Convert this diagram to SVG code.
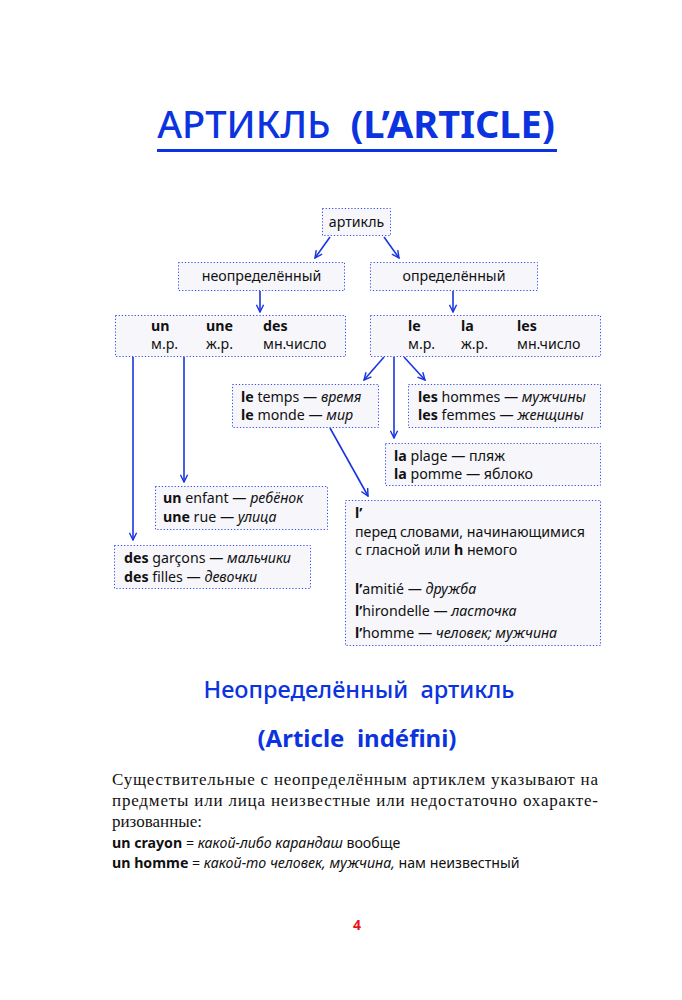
<svg xmlns="http://www.w3.org/2000/svg" width="682" height="1000" viewBox="0 0 682 1000">
<defs>
<marker id="ah" viewBox="0 0 10 10" refX="9" refY="5" markerWidth="9" markerHeight="9" markerUnits="userSpaceOnUse" orient="auto">
<path d="M1,1 L9,5 L1,9" fill="none" stroke="#1a35e0" stroke-width="1.6"/>
</marker>
<style>
.box{fill:#f6f6fb;stroke:#2f47ee;stroke-width:1;stroke-dasharray:1.2 2}
.t{font-family:"Noto Sans","Open Sans",sans-serif;font-size:14.2px;fill:#111}
.b{font-weight:bold}
.i{font-style:italic}
.c{stroke:#1a35e0;stroke-width:1.6;fill:none}
.h{font-family:"Noto Sans","Open Sans",sans-serif;fill:#0b33e0}
.s{font-family:"Liberation Serif","DejaVu Serif",serif;font-size:17px;fill:#111}
</style>
</defs>
<rect width="682" height="1000" fill="#fff"/>
<g id="title">
<text class="h" x="356" y="138" font-size="38" text-anchor="middle"><tspan font-weight="500">АРТИКЛЬ</tspan><tspan xml:space="preserve">  </tspan><tspan font-weight="bold">(L’ARTICLE)</tspan></text>
<rect x="157" y="149" width="400" height="3" fill="#0b33e0"/>
</g>
<g id="connectors">
<line class="c" x1="330" y1="237" x2="315" y2="258" marker-end="url(#ah)"/>
<line class="c" x1="384" y1="237" x2="399" y2="258" marker-end="url(#ah)"/>
<line class="c" x1="260" y1="291" x2="260" y2="312" marker-end="url(#ah)"/>
<line class="c" x1="453" y1="291" x2="453" y2="312" marker-end="url(#ah)"/>
<line class="c" x1="133" y1="357" x2="133" y2="540" marker-end="url(#ah)"/>
<line class="c" x1="184" y1="357" x2="184" y2="482" marker-end="url(#ah)"/>
<line class="c" x1="384" y1="357" x2="364" y2="380" marker-end="url(#ah)"/>
<line class="c" x1="404" y1="357" x2="425" y2="380" marker-end="url(#ah)"/>
<line class="c" x1="394" y1="357" x2="394" y2="438" marker-end="url(#ah)"/>
<line class="c" x1="330" y1="428" x2="368" y2="496" marker-end="url(#ah)"/>
</g>
<g id="n-article">
<rect class="box" x="322.5" y="208.5" width="68" height="27"/>
<text class="t" x="356.5" y="227" text-anchor="middle">артикль</text>
</g>
<g id="n-indef">
<rect class="box" x="178.5" y="262.5" width="166" height="28"/>
<text class="t" x="261.5" y="281" text-anchor="middle">неопределённый</text>
</g>
<g id="n-def">
<rect class="box" x="370.5" y="262.5" width="167" height="28"/>
<text class="t" x="454" y="281" text-anchor="middle">определённый</text>
</g>
<g id="n-indef-forms">
<rect class="box" x="115.5" y="315.5" width="230" height="41"/>
<text class="t b" x="151" y="331">un</text>
<text class="t b" x="206" y="331">une</text>
<text class="t b" x="263" y="331">des</text>
<text class="t" x="151" y="349">м.р.</text>
<text class="t" x="206" y="349">ж.р.</text>
<text class="t" x="263" y="349">мн.число</text>
</g>
<g id="n-def-forms">
<rect class="box" x="370.5" y="315.5" width="230" height="41"/>
<text class="t b" x="408" y="331">le</text>
<text class="t b" x="461" y="331">la</text>
<text class="t b" x="517" y="331">les</text>
<text class="t" x="408" y="349">м.р.</text>
<text class="t" x="461" y="349">ж.р.</text>
<text class="t" x="517" y="349">мн.число</text>
</g>
<g id="n-le">
<rect class="box" x="232.5" y="384.5" width="146" height="43"/>
<text class="t" x="241" y="402"><tspan class="b">le</tspan> temps — <tspan class="i">время</tspan></text>
<text class="t" x="241" y="420"><tspan class="b">le</tspan> monde — <tspan class="i">мир</tspan></text>
</g>
<g id="n-les">
<rect class="box" x="408.5" y="384.5" width="192" height="43"/>
<text class="t" x="418" y="402"><tspan class="b">les</tspan> hommes — <tspan class="i">мужчины</tspan></text>
<text class="t" x="418" y="420"><tspan class="b">les</tspan> femmes — <tspan class="i">женщины</tspan></text>
</g>
<g id="n-la">
<rect class="box" x="385.5" y="443.5" width="215" height="42"/>
<text class="t" x="394" y="461"><tspan class="b">la</tspan> plage — пляж</text>
<text class="t" x="394" y="479"><tspan class="b">la</tspan> pomme — яблоко</text>
</g>
<g id="n-lapo">
<rect class="box" x="345.5" y="500.5" width="255" height="145"/>
<text class="t b" x="355" y="518">l’</text>
<text class="t" x="355" y="537">перед словами, начинающимися</text>
<text class="t" x="355" y="555">с гласной или <tspan class="b">h</tspan> немого</text>
<text class="t" x="355" y="594"><tspan class="b">l’</tspan>amitié — <tspan class="i">дружба</tspan></text>
<text class="t" x="355" y="616"><tspan class="b">l’</tspan>hirondelle — <tspan class="i">ласточка</tspan></text>
<text class="t" x="355" y="638"><tspan class="b">l’</tspan>homme — <tspan class="i">человек; мужчина</tspan></text>
</g>
<g id="n-un">
<rect class="box" x="155.5" y="486.5" width="172" height="43"/>
<text class="t" x="163" y="503"><tspan class="b">un</tspan> enfant — <tspan class="i">ребёнок</tspan></text>
<text class="t" x="163" y="522"><tspan class="b">une</tspan> rue — <tspan class="i">улица</tspan></text>
</g>
<g id="n-des">
<rect class="box" x="114.5" y="545.5" width="196" height="43"/>
<text class="t" x="124" y="563"><tspan class="b">des</tspan> garçons — <tspan class="i">мальчики</tspan></text>
<text class="t" x="124" y="582"><tspan class="b">des</tspan> filles — <tspan class="i">девочки</tspan></text>
</g>
<g id="section">
<text class="h" x="359" y="698" font-size="23.5" font-weight="500" text-anchor="middle" xml:space="preserve">Неопределённый  артикль</text>
<text class="h" x="357" y="747" font-size="24" font-weight="bold" text-anchor="middle" xml:space="preserve">(Article  indéfini)</text>
<text class="s" x="112" y="785" textLength="486" lengthAdjust="spacing">Существительные с неопределённым артиклем указывают на</text>
<text class="s" x="112" y="806" textLength="486" lengthAdjust="spacing">предметы или лица неизвестные или недостаточно охаракте-</text>
<text class="s" x="112" y="827">ризованные:</text>
<text class="t" x="112" y="848" font-size="14.4"><tspan class="b">un crayon</tspan> = <tspan class="i">какой-либо карандаш</tspan> вообще</text>
<text class="t" x="112" y="868" font-size="14.4"><tspan class="b">un homme</tspan> = <tspan class="i">какой-то человек, мужчина,</tspan> нам неизвестный</text>
<text x="357" y="930" font-family="'Noto Sans',sans-serif" font-size="14" font-weight="bold" fill="#e8141c" text-anchor="middle">4</text>
</g>
</svg>
